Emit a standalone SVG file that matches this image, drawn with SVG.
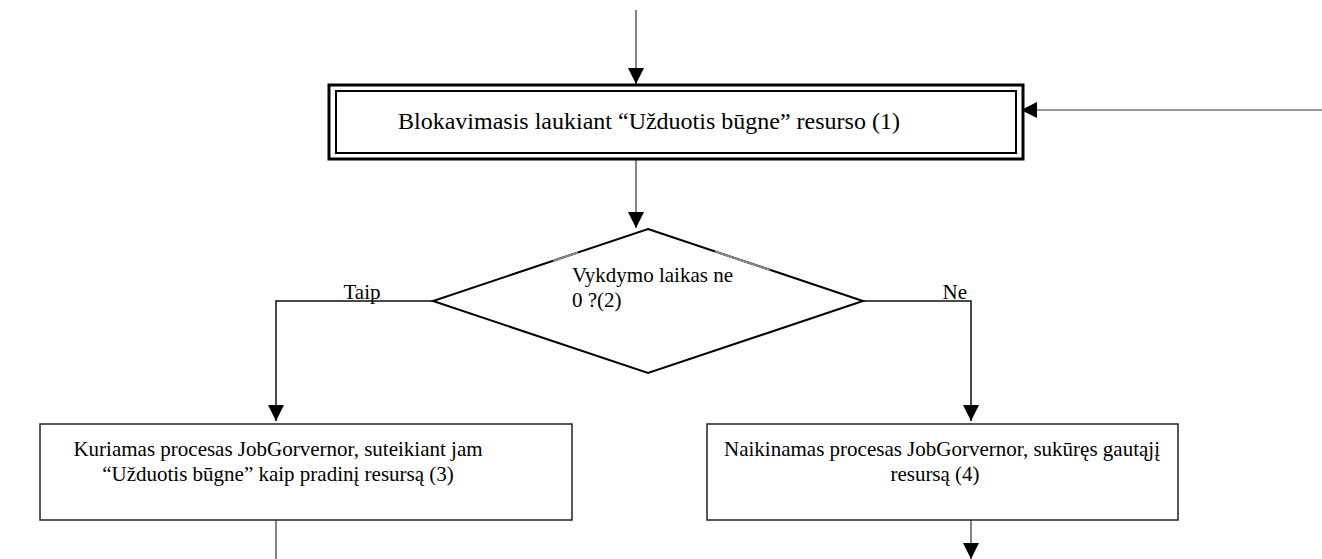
<svg xmlns="http://www.w3.org/2000/svg" width="1322" height="559" viewBox="0 0 1322 559">
  <defs>
    <marker id="arrow" viewBox="0 0 16 16" refX="16" refY="8" markerWidth="16" markerHeight="16" markerUnits="userSpaceOnUse" orient="auto">
      <path d="M0,0 L16,8 L0,16 Z" fill="#000"/>
    </marker>
    <style>
      .txt { font-family: "Liberation Serif", "Times New Roman", serif; font-size: 21px; fill: #000; }
      .big { font-size: 24px; }
      .mid { text-anchor: middle; }
      .box { fill: #fff; stroke: #222; stroke-width: 1.5; }
      .conn { fill: none; stroke: #333; stroke-width: 1.2; }
      .branch { fill: none; stroke: #111; stroke-width: 1.5; }
    </style>
  </defs>
  <rect width="1322" height="559" fill="#fff"/>

  <!-- connectors -->
  <g id="connectors">
    <line class="conn" x1="636" y1="10" x2="636" y2="84" marker-end="url(#arrow)"/>
    <line class="conn" x1="1322" y1="110" x2="1021" y2="110" marker-end="url(#arrow)"/>
    <line class="conn" x1="636" y1="159" x2="636" y2="228" marker-end="url(#arrow)"/>
    <polyline class="branch" points="433,301 276,301 276,421" marker-end="url(#arrow)"/>
    <polyline class="branch" points="863,301 971,301 971,421" marker-end="url(#arrow)"/>
    <line class="conn" x1="276" y1="517" x2="276" y2="559"/>
    <line class="conn" x1="971" y1="517" x2="971" y2="559" marker-end="url(#arrow)"/>
    <text class="txt mid" x="362" y="299">Taip</text>
    <text class="txt" x="967" y="299" text-anchor="end">Ne</text>
  </g>

  <!-- (1) blocking wait -->
  <g id="node-wait">
    <rect x="329" y="85" width="694" height="74" fill="#fff" stroke="#000" stroke-width="3"/>
    <rect x="336" y="91" width="680" height="62" fill="none" stroke="#000" stroke-width="2"/>
    <text class="txt big" x="398" y="129">Blokavimasis laukiant “Užduotis būgne” resurso (1)</text>
  </g>

  <!-- (2) decision -->
  <g id="node-decision">
    <polygon points="648,229 863,301 648,373 433,301" fill="#fff" stroke="#000" stroke-width="2"/>
    <line x1="553" y1="261" x2="578" y2="252.5" stroke="#888" stroke-width="2"/>
    <line x1="715" y1="251.5" x2="770" y2="270" stroke="#888" stroke-width="2"/>
    <text class="txt" x="572" y="282">Vykdymo laikas ne</text>
    <text class="txt" x="572" y="307">0 ?(2)</text>
  </g>

  <!-- (3) create JobGovernor -->
  <g id="node-create">
    <rect class="box" x="40" y="424" width="532" height="96"/>
    <text class="txt mid" x="278" y="456">Kuriamas procesas JobGorvernor, suteikiant jam</text>
    <text class="txt mid" x="278" y="481">“Užduotis būgne” kaip pradinį resursą (3)</text>
  </g>

  <!-- (4) destroy JobGovernor -->
  <g id="node-destroy">
    <rect class="box" x="707" y="424" width="471" height="96"/>
    <text class="txt mid" x="942" y="456">Naikinamas procesas JobGorvernor, sukūręs gautąjį</text>
    <text class="txt mid" x="935" y="481">resursą (4)</text>
  </g>
</svg>
